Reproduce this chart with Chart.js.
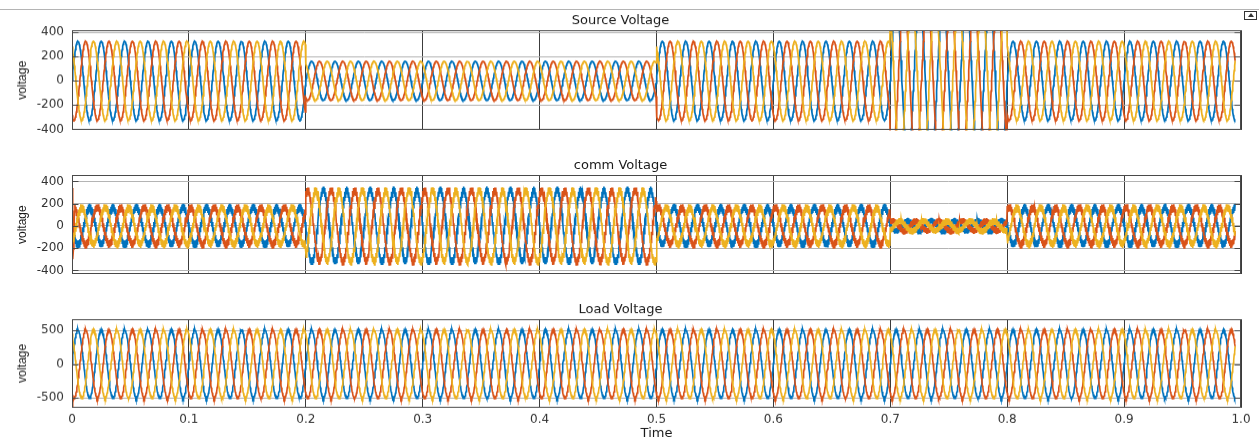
<!DOCTYPE html>
<html>
<head>
<meta charset="utf-8">
<script src="https://cdn.jsdelivr.net/npm/chart.js@4.4.0/dist/chart.umd.min.js"></script>
<style>
    body { margin: 0; background: #fff; width: 1259px; height: 441px; overflow: hidden; position: relative; }
    .panel { position: absolute; left: 0; width: 1259px; }
    .topline { position: absolute; left: 0; top: 9px; width: 1259px; height: 1px; background: #b4b4b4; }
    .icon { position: absolute; left: 1244px; top: 11px; width: 11px; height: 7px; border: 1px solid #333; }
    .icon:after { content: ''; position: absolute; left: 3px; top: 1px; border-left: 3px solid transparent; border-right: 3px solid transparent; border-bottom: 4px solid #333; }
    #p1 { top: 13.4px; height: 131.6px; }
    #p2 { top: 157.9px; height: 131.4px; }
    #p3 { top: 302.2px; height: 138.8px; }
</style>
</head>
<body>
<div class="topline"></div>
<div class="icon"></div>
<div class="panel" id="p1"><canvas id="source-chart"></canvas></div>
<div class="panel" id="p2"><canvas id="comm-chart"></canvas></div>
<div class="panel" id="p3"><canvas id="load-chart"></canvas></div>
<script>
    'use strict';

    // ---- data ----
    const freqHz = 50;
    const samplesPerCycle = 48;
    const tEnd = 0.995;
    const segmentEdges = [0, 0.2, 0.5, 0.7, 0.8, 1.0];      // seconds
    const sourceAmp = [325, 160, 325, 650, 325];
    const commAmp = [165, 320, 165, 45, 165];
    const commRipple = [35, 35, 35, 28, 35];
    const loadAmp = [505, 505, 505, 505, 505];
    const loadRipple = [12, 12, 12, 12, 12];

    // one cycle of the waveform (per unit), 48 samples
    const cycleShape = [0, 0.13, 0.26, 0.38, 0.5, 0.61, 0.71, 0.79, 0.87, 0.92, 0.97, 0.99,
        1, 0.99, 0.97, 0.92, 0.87, 0.79, 0.71, 0.61, 0.5, 0.38, 0.26, 0.13,
        0, -0.13, -0.26, -0.38, -0.5, -0.61, -0.71, -0.79, -0.87, -0.92, -0.97, -0.99,
        -1, -0.99, -0.97, -0.92, -0.87, -0.79, -0.71, -0.61, -0.5, -0.38, -0.26, -0.13];
    // switching ripple pattern (per unit)
    const ripplePattern = [1, -0.8, 0.9, -1, 0.7, -0.9, 1, -0.7, 0.8, -1, 0.9, -0.8];

    const phaseNames = ['Phase A', 'Phase B', 'Phase C'];
    const phaseColors = ['#0072bd', '#d95319', '#edb120'];
    // phase lag in samples (48 = one cycle); comm voltage runs in anti-phase
    const sourceLag = [0, 16, 32];
    const commLag = [24, 40, 8];
    const loadLag = [0, 16, 32];
    // start-up transient of phase B (first samples)
    const commStartB = [340, 300, -300, -210, -140];
    const loadStartB = [-640, -610, -570, -520];

    const xTicks = [0, 0.1, 0.2, 0.3, 0.4, 0.5, 0.6, 0.7, 0.8, 0.9, 1];
    const sourceTicks = [-400, -200, 0, 200, 400];
    const commTicks = [-400, -200, 0, 200, 400];
    const loadTicks = [-500, 0, 500];

    function segmentIndex(t) {
        for (let i = 1; i < segmentEdges.length; i++) {
            if (t < segmentEdges[i] - 1e-9) return i - 1;
        }
        return segmentEdges.length - 2;
    }

    function buildPhase(amps, ripples, lag, start) {
        const points = [];
        const n = Math.round(tEnd * freqHz * samplesPerCycle);
        for (let k = 0; k <= n; k++) {
            const t = k / (freqHz * samplesPerCycle);
            const seg = segmentIndex(t);
            const idx = ((k - lag) % samplesPerCycle + samplesPerCycle) % samplesPerCycle;
            let y = amps[seg] * cycleShape[idx];
            if (ripples) y += ripples[seg] * ripplePattern[k % ripplePattern.length];
            if (start && k < start.length) y = start[k];
            points.push({ x: t, y: y });
        }
        return points;
    }

    const boxPlugin = {
        id: 'box',
        afterDraw(chart) {
            const a = chart.chartArea;
            const ctx = chart.ctx;
            const yScale = chart.scales.y;
            ctx.save();
            ctx.strokeStyle = '#4a4a4a';
            ctx.lineWidth = 1;
            const l = Math.round(a.left) + 0.5, r = Math.round(a.right) - 0.5;
            const t = Math.round(a.top) + 0.5, b = Math.round(a.bottom) - 0.5;
            ctx.strokeRect(l, t, r - l, b - t);
            ctx.beginPath();
            yScale.ticks.forEach(tick => {
                const py = Math.round(yScale.getPixelForValue(tick.value)) + 0.5;
                ctx.moveTo(l, py); ctx.lineTo(l + 6, py);
                ctx.moveTo(r, py); ctx.lineTo(r - 6, py);
            });
            ctx.stroke();
            ctx.restore();
        }
    };

    function renderPanel(canvasId, title, amps, ripples, lags, startB, yMin, yMax, yTicks, showX) {
        const ctx = document.getElementById(canvasId);
        if (!ctx) return;

        const datasets = phaseNames.map((name, i) => ({
            label: name,
            data: buildPhase(amps, ripples, lags[i], i === 1 ? startB : null),
            borderColor: phaseColors[i],
            borderWidth: ripples ? 1.6 : 1.7,
            pointRadius: 0,
            tension: 0,
            fill: false,
            order: 3 - i
        }));

        new Chart(ctx, {
            type: 'line',
            data: { datasets: datasets },
            plugins: [boxPlugin],
            options: {
                responsive: true,
                maintainAspectRatio: false,
                animation: false,
                parsing: false,
                normalized: true,
                events: [],
                layout: { padding: { left: 0, right: 18, top: 0, bottom: 0 } },
                plugins: {
                    legend: { display: false },
                    tooltip: { enabled: false },
                    title: {
                        display: true,
                        text: title,
                        color: '#1a1a1a',
                        font: { family: 'DejaVu Sans', size: 13, weight: 'normal' },
                        padding: { top: 0, bottom: 1.5 }
                    }
                },
                scales: {
                    x: {
                        type: 'linear',
                        min: 0,
                        max: 1,
                        afterBuildTicks: s => { s.ticks = xTicks.map(v => ({ value: v })); },
                        afterFit: s => { s.height = showX ? 34 : 0; },
                        grid: { color: '#3c3c3c', lineWidth: 1, drawTicks: false },
                        border: { display: false },
                        ticks: {
                            display: showX,
                            padding: 5,
                            color: '#333',
                            maxRotation: 0,
                            font: { family: 'DejaVu Sans', size: 12 }
                        },
                        title: {
                            display: showX,
                            text: 'Time',
                            color: '#1a1a1a',
                            font: { family: 'DejaVu Sans', size: 13 },
                            padding: { top: 0, bottom: 0 }
                        }
                    },
                    y: {
                        min: yMin,
                        max: yMax,
                        afterBuildTicks: s => { s.ticks = yTicks.map(v => ({ value: v })); },
                        afterFit: s => { s.width = 72; },
                        grid: { color: '#b4b4b4', lineWidth: 1, drawTicks: false },
                        border: { display: false },
                        ticks: {
                            padding: 8,
                            color: '#333',
                            font: { family: 'DejaVu Sans', size: 12 }
                        },
                        title: {
                            display: true,
                            text: 'voltage',
                            color: '#1a1a1a',
                            font: { family: 'Liberation Sans', size: 12 },
                            padding: { top: 15, bottom: 0 }
                        }
                    }
                }
            }
        });
    }

    renderPanel('source-chart', 'Source Voltage', sourceAmp, null, sourceLag, null, -408, 416, sourceTicks, false);
    renderPanel('comm-chart', 'comm Voltage', commAmp, commRipple, commLag, commStartB, -434, 457, commTicks, false);
    renderPanel('load-chart', 'Load Voltage', loadAmp, loadRipple, loadLag, loadStartB, -645, 664, loadTicks, true);
</script>
</body>
</html>
